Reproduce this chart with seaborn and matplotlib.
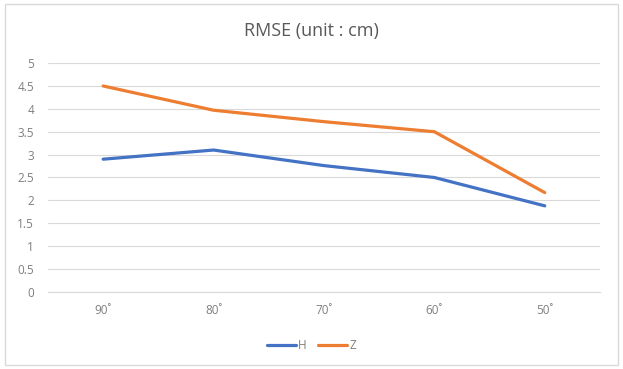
import matplotlib
matplotlib.use("Agg")
import matplotlib.pyplot as plt
import seaborn as sns
import pandas as pd
from matplotlib.patches import Rectangle
from matplotlib.lines import Line2D

categories = ["90˚", "80˚", "70˚", "60˚", "50˚"]
h_values = [2.9, 3.1, 2.76, 2.5, 1.88]
z_values = [4.5, 3.97, 3.72, 3.5, 2.17]
y_ticks = [0, 0.5, 1, 1.5, 2, 2.5, 3, 3.5, 4, 4.5, 5]

df = pd.DataFrame({
    "angle": categories * 2,
    "pos": list(range(len(categories))) * 2,
    "value": h_values + z_values,
    "series": ["H"] * len(categories) + ["Z"] * len(categories),
})

sns.set_style("white")
plt.rcParams["font.family"] = ["Open Sans", "DejaVu Sans"]

fig = plt.figure(figsize=(6.23, 3.69), dpi=100)
ax = fig.add_axes([0.077, 0.209, 0.886, 0.62])

sns.lineplot(data=df, x="pos", y="value", hue="series",
             palette={"H": "#4472C4", "Z": "#ED7D31"},
             linewidth=2.3, ax=ax, legend=False, sort=False)

ax.set_xlim(-0.5, len(categories) - 0.5)
ax.set_ylim(0, 5)
ax.set_yticks(y_ticks)
ax.set_yticklabels([f"{t:g}" for t in y_ticks])
ax.set_xticks(range(len(categories)))
ax.set_xticklabels(categories)
ax.set_xlabel("")
ax.set_ylabel("")
ax.yaxis.grid(True, color="#d9d9d9", linewidth=0.8)
ax.xaxis.grid(False)
for s in ["top", "right", "left"]:
    ax.spines[s].set_visible(False)
ax.spines["bottom"].set_color("#d9d9d9")
ax.spines["bottom"].set_linewidth(0.8)
ax.tick_params(axis="both", length=0, colors="#7f7f7f", labelsize=8.5)
ax.tick_params(axis="x", pad=9)
ax.tick_params(axis="y", pad=10)

fig.text(0.5, 0.915, "RMSE (unit : cm)", ha="center", va="center",
         fontsize=13, color="#595959")

handles = [Line2D([], [], color="#4472C4", lw=2.3),
           Line2D([], [], color="#ED7D31", lw=2.3)]
fig.legend(handles, ["H", "Z"], loc="center", bbox_to_anchor=(0.5, 0.063),
           ncol=2, frameon=False, fontsize=8.5, labelcolor="#7f7f7f",
           handlelength=2.4, handletextpad=0.2, columnspacing=1.0)

fig.patches.append(Rectangle((0.008, 0.012), 0.984, 0.976, transform=fig.transFigure,
                             fill=False, edgecolor="#d9d9d9", linewidth=1.0))

fig.savefig("out.png", dpi=100)
